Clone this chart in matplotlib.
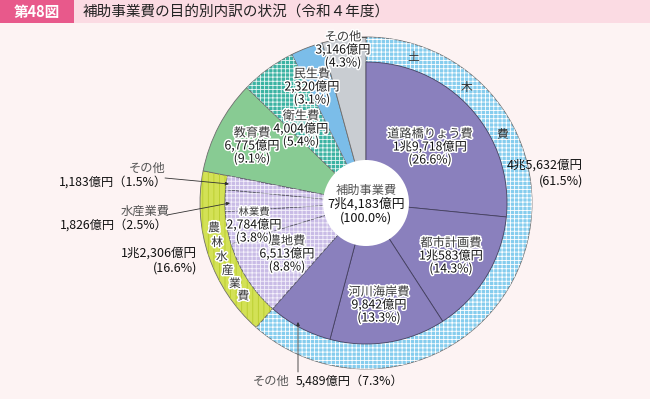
import matplotlib.pyplot as plt
import matplotlib.patheffects as pe
from matplotlib.patches import Rectangle, Circle
import numpy as np

plt.rcParams['font.family'] = ['Noto Sans CJK JP', 'DejaVu Sans']
plt.rcParams['hatch.linewidth'] = 0.6

# 土木費の内訳（億円）
doboku_labels = ['道路橋りょう費', '都市計画費', '河川海岸費', 'その他']
doboku_values = [19718, 10583, 9842, 5489]
doboku_pct = [26.6, 14.3, 13.3, 7.3]
doboku_pct_total = 61.5

# 農林水産業費の内訳（億円）
norin_labels = ['農地費', '林業費', '水産業費', 'その他']
norin_values = [6513, 2784, 1826, 1183]
norin_pct = [8.8, 3.8, 2.5, 1.5]
norin_pct_total = 16.6

# その他の目的
other_labels = ['教育費', '衛生費', '民生費', 'その他']
other_values = [6775, 4004, 2320, 3146]
other_pct = [9.1, 5.4, 3.1, 4.3]


def oku(v):
    if v >= 10000:
        rest = v % 10000
        return f"{v // 10000}兆{rest:,}億円"
    return f"{v:,}億円"


doboku_total = sum(doboku_values)
norin_total = sum(norin_values)
total = doboku_total + norin_total + sum(other_values)

W, H = 650, 399
fig = plt.figure(figsize=(W / 100, H / 100), dpi=100)
fig.patch.set_facecolor('#fdf3f3')
ax = fig.add_axes([0, 0, 1, 1])
ax.set_facecolor('#fdf3f3')

cx, cy = 366, 203
R_out, R_in, R_hole = 166, 141, 43

# 外側の円（大分類）
outer_vals = [doboku_total, norin_total] + other_values
outer_cols = ['#86cdee', '#d3e156', '#88cb93', '#3cb3a3', '#7bbde9', '#c9cdd2']
wo, _ = ax.pie(outer_vals, radius=R_out, center=(cx, cy), startangle=-90,
               counterclock=True, colors=outer_cols, frame=True,
               wedgeprops=dict(edgecolor='#6d6d6d', linewidth=0.6))
# 模様
wh, _ = ax.pie(outer_vals, radius=R_out, center=(cx, cy), startangle=-90,
               counterclock=True, frame=True,
               wedgeprops=dict(facecolor='none', linewidth=0))
hatches = ['++++', '|||', None, '++++', None, None]
hcols = ['white', '#b9cd2c', None, '#e8f6f3', None, None]
for w, h, c in zip(wh, hatches, hcols):
    if h is None:
        w.set_visible(False)
    else:
        w.set_hatch(h)
        w.set_edgecolor(c)
        w.set_linewidth(0)

# 内側の円（土木費・農林水産業費の内訳）
inner_vals = doboku_values + norin_values + [sum(other_values)]
inner_cols = ['#8a80bd'] * 4 + ['#c9bce6'] * 4 + ['none']
wi, _ = ax.pie(inner_vals, radius=R_in, center=(cx, cy), startangle=-90,
               counterclock=True, colors=inner_cols, frame=True,
               wedgeprops=dict(edgecolor='#45405f', linewidth=0.6))
wi[-1].set_visible(False)
for w in wi[4:8]:
    w.set_edgecolor('#5a5a6a')
wi2, _ = ax.pie(inner_vals, radius=R_in, center=(cx, cy), startangle=-90,
                counterclock=True, frame=True,
                wedgeprops=dict(facecolor='none', linewidth=0))
for i, w in enumerate(wi2):
    if 4 <= i < 8:
        w.set_hatch('++++')
        w.set_edgecolor('#f4f0fb')
    else:
        w.set_visible(False)

ax.add_patch(Circle((cx, cy), R_hole, facecolor='white', edgecolor='none', zorder=3))

halo = [pe.withStroke(linewidth=2.2, foreground='white')]


def label3(x, y, name, value, pct, size=8.8, nsize=None):
    ax.text(x, y, name, ha='center', va='center', fontsize=nsize or size,
            color='#3a3a3a', path_effects=halo, zorder=5)
    ax.text(x, y + 13, oku(value), ha='center', va='center', fontsize=size,
            color='#111111', path_effects=halo, zorder=5)
    ax.text(x, y + 26, f"({pct}%)", ha='center', va='center', fontsize=size,
            color='#111111', path_effects=halo, zorder=5)


label3(430, 134, doboku_labels[0], doboku_values[0], doboku_pct[0])
label3(451, 243, doboku_labels[1], doboku_values[1], doboku_pct[1])
label3(379, 292, doboku_labels[2], doboku_values[2], doboku_pct[2])
label3(287, 241, norin_labels[0], norin_values[0], norin_pct[0])
label3(254, 212, norin_labels[1], norin_values[1], norin_pct[1], nsize=7.5)
label3(252, 133, other_labels[0], other_values[0], other_pct[0])
label3(301, 116, other_labels[1], other_values[1], other_pct[1])
label3(312, 74, other_labels[2], other_values[2], other_pct[2])
label3(343, 37, other_labels[3], other_values[3], other_pct[3])
ax.plot([357, 366], [37, 37], color='#555555', lw=0.7, zorder=4)

# 中央
ax.text(cx, 190, '補助事業費', ha='center', va='center', fontsize=8.8, color='#555555', zorder=5)
ax.text(cx, 204, oku(total), ha='center', va='center', fontsize=9.2, color='#111111', zorder=5)
ax.text(cx, 218, '(100.0%)', ha='center', va='center', fontsize=9.2, color='#111111', zorder=5)

# 外周の文字
for ch, a in zip('土木費', [18, 41, 63]):
    t = np.radians(a)
    ax.text(cx + 153 * np.sin(t), cy - 153 * np.cos(t), ch, ha='center', va='center',
            fontsize=8.5, color='#333333', zorder=5)
for ch, a in zip('農林水産業費', np.linspace(260.7, 232.8, 6)):
    t = np.radians(a)
    ax.text(cx + 154 * np.sin(t), cy - 154 * np.cos(t), ch, ha='center', va='center',
            fontsize=8.5, color='#333333', path_effects=halo, zorder=5)

ax.text(583, 165, oku(doboku_total), ha='right', va='center', fontsize=9, color='#111111')
ax.text(583, 181, f"({doboku_pct_total}%)", ha='right', va='center', fontsize=9, color='#111111')
ax.text(197, 253, oku(norin_total), ha='right', va='center', fontsize=9, color='#111111')
ax.text(197, 268, f"({norin_pct_total}%)", ha='right', va='center', fontsize=9, color='#111111')

# 引き出し線付きラベル
arrow = dict(arrowstyle='-|>', lw=0.6, color='#333333', mutation_scale=5, shrinkA=0, shrinkB=0)
ax.text(147, 168, norin_labels[3], ha='center', va='center', fontsize=8.8, color='#555555')
ax.text(167, 182, f"{oku(norin_values[3])}（{norin_pct[3]}%）", ha='right', va='center',
        fontsize=8.8, color='#111111')
ax.annotate('', xy=(229, 184), xytext=(165, 178), arrowprops=arrow, zorder=6)
ax.text(145, 211, norin_labels[2], ha='center', va='center', fontsize=8.8, color='#555555')
ax.text(168, 225, f"{oku(norin_values[2])}（{norin_pct[2]}%）", ha='right', va='center',
        fontsize=8.8, color='#111111')
ax.annotate('', xy=(230, 203), xytext=(167, 215), arrowprops=arrow, zorder=6)

ax.text(271, 381, doboku_labels[3], ha='center', va='center', fontsize=8.8, color='#555555')
ax.text(296, 381, f"{oku(doboku_values[3])}（{doboku_pct[3]}%）", ha='left', va='center',
        fontsize=8.8, color='#111111')
ax.annotate('', xy=(298, 322), xytext=(298, 372), arrowprops=arrow, zorder=6)

# 見出し
ax.add_patch(Rectangle((0, 0), 74, 23, facecolor='#e8598b', edgecolor='none'))
ax.add_patch(Rectangle((74, 0), W - 74, 23, facecolor='#fbdbe3', edgecolor='none'))
ax.text(37, 11.5, '第48図', ha='center', va='center', fontsize=10.5, color='white', fontweight='bold')
ax.text(83, 11.5, '補助事業費の目的別内訳の状況（令和４年度）', ha='left', va='center',
        fontsize=10.5, color='#222222')

ax.set_xlim(0, W)
ax.set_ylim(H, 0)
ax.axis('off')

fig.savefig('out.png', dpi=100, facecolor=fig.get_facecolor())
